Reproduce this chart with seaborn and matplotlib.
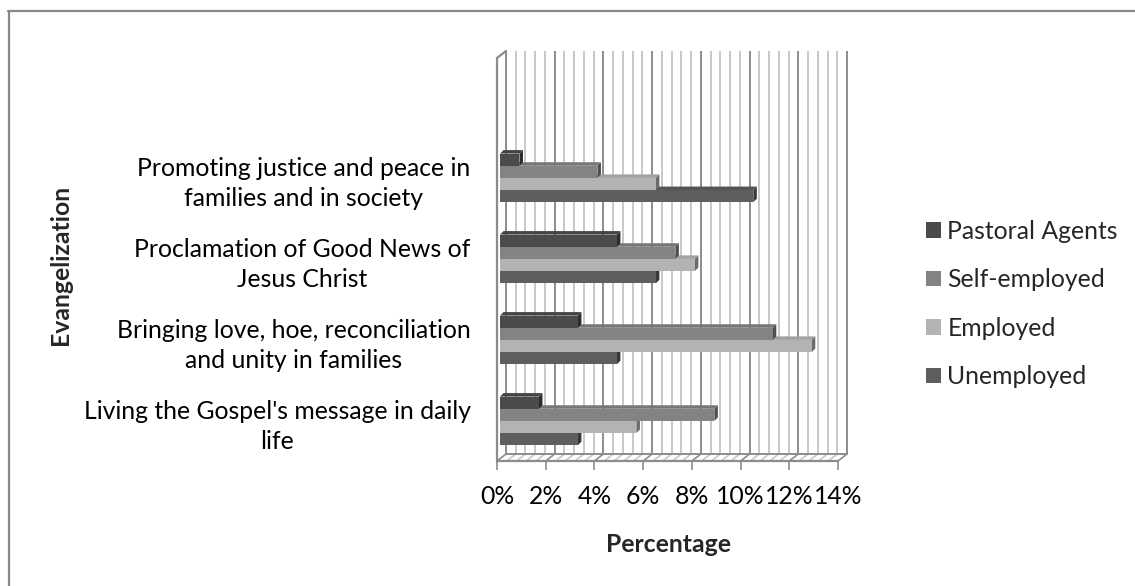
import numpy as np
import pandas as pd
import matplotlib
matplotlib.use("Agg")
import matplotlib.pyplot as plt
import seaborn as sns
from matplotlib.patches import Polygon
from matplotlib.lines import Line2D
from matplotlib.transforms import ScaledTranslation, IdentityTransform

# ---- data -------------------------------------------------------------
categories = [
    "Promoting justice and peace in\nfamilies and in society",
    "Proclamation of Good News of\nJesus Christ",
    "Bringing love, hoe, reconciliation\nand unity in families",
    "Living the Gospel's message in daily\nlife",
]
groups = ["Pastoral Agents", "Self-employed", "Employed", "Unemployed"]
pastoral_agents = [0.8, 4.8, 3.2, 1.6]
self_employed = [4.0, 7.2, 11.2, 8.8]
employed = [6.4, 8.0, 12.8, 5.6]
unemployed = [10.4, 6.4, 4.8, 3.2]
x_ticks = [0, 2, 4, 6, 8, 10, 12, 14]
x_tick_labels = ["0%", "2%", "4%", "6%", "8%", "10%", "12%", "14%"]
colors = ["#4b4b4b", "#838383", "#b3b3b3", "#5e5e5e"]

series = [pastoral_agents, self_employed, employed, unemployed]
df = pd.DataFrame(
    [(c, g, v) for g, vals in zip(groups, series) for c, v in zip(categories, vals)],
    columns=["category", "group", "value"],
)

# ---- figure -----------------------------------------------------------
W, H = 1135, 586
sns.set_theme(style="white")
plt.rcParams["font.family"] = ["Lato", "DejaVu Sans"]
fig = plt.figure(figsize=(W / 100, H / 100), dpi=100)
fig.patch.set_facecolor("white")

# front plane of the 3-D box, in pixel units
left_px, right_px, top_px, bottom_px = 497, 838, 58, 461
ax = fig.add_axes([left_px / W, 1 - bottom_px / H,
                   (right_px - left_px) / W, (bottom_px - top_px) / H])

sns.barplot(data=df, y="category", x="value", hue="group",
            order=categories, hue_order=groups, palette=colors,
            orient="h", width=0.6, saturation=1, linewidth=0,
            legend=True, ax=ax, zorder=3)

XMAX = 14
Y_BOTTOM, Y_TOP = 3.495, -1.48
ax.set_xlim(0, XMAX)
ax.set_ylim(Y_BOTTOM, Y_TOP)
ax.set_facecolor("none")
for s in ax.spines.values():
    s.set_visible(False)
ax.grid(False)

px = lambda n: n / 100.0
back = ax.transData + ScaledTranslation(px(9), px(7), fig.dpi_scale_trans)
bar_shift = ax.transData + ScaledTranslation(px(3), 0, fig.dpi_scale_trans)

# ---- back wall gridlines and floor -------------------------------------
major_c, minor_c = "#8c8c8c", "#c8c8c8"
grid_x = np.round(np.arange(0, XMAX + 0.001, 0.4), 2)
for gx in grid_x:
    is_major = abs(gx / 2 - round(gx / 2)) < 1e-6
    c = major_c if is_major else minor_c
    ax.plot([gx, gx], [Y_BOTTOM, Y_TOP], color=c, lw=1.4,
            transform=back, zorder=0, clip_on=False, solid_capstyle="butt")
    p_back = back.transform((gx, Y_BOTTOM))
    p_front = ax.transData.transform((gx, Y_BOTTOM))
    ax.plot([p_back[0], p_front[0]], [p_back[1], p_front[1]], color=c, lw=1.2,
            transform=IdentityTransform(), zorder=0, clip_on=False)

# floor edges
ax.plot([0, XMAX], [Y_BOTTOM, Y_BOTTOM], color=major_c, lw=1.4,
        transform=back, zorder=0, clip_on=False)
ax.plot([0, XMAX], [Y_BOTTOM, Y_BOTTOM], color=major_c, lw=1.6,
        zorder=1, clip_on=False)
# left edge of the box
ax.plot([0, 0], [Y_BOTTOM, Y_TOP], color=major_c, lw=1.6, zorder=1, clip_on=False)
p_b = back.transform((0, Y_TOP))
p_f = ax.transData.transform((0, Y_TOP))
ax.plot([p_f[0], p_b[0]], [p_f[1], p_b[1]], color=major_c, lw=1.6,
        transform=IdentityTransform(), zorder=1, clip_on=False)

# ---- 3-D bar faces ----------------------------------------------------
def shade(hexcol, f):
    r, g, b = matplotlib.colors.to_rgb(hexcol)
    return (r * f, g * f, b * f)

dx, dy = 3.5, 3.5
for patch in list(ax.patches):
    patch.set_transform(bar_shift)
    x0, y0 = patch.get_x(), patch.get_y()
    w, h = patch.get_width(), patch.get_height()
    hexc = matplotlib.colors.to_hex(patch.get_facecolor())
    (ax0, ay_top) = bar_shift.transform((x0, y0))
    (ax1, ay_bot) = bar_shift.transform((x0 + w, y0 + h))
    # y0 is the upper edge because the axis is inverted
    top_face = Polygon([(ax0, ay_top), (ax1, ay_top), (ax1 + dx, ay_top + dy),
                        (ax0 + dx, ay_top + dy)], closed=True,
                       facecolor=shade(hexc, 0.9), edgecolor="none",
                       transform=IdentityTransform(), zorder=2)
    cap = Polygon([(ax1, ay_top), (ax1, ay_bot), (ax1 + dx, ay_bot + dy),
                   (ax1 + dx, ay_top + dy)], closed=True,
                  facecolor=shade(hexc, 0.6), edgecolor="none",
                  transform=IdentityTransform(), zorder=2.5)
    ax.add_patch(top_face)
    ax.add_patch(cap)

# ---- ticks and labels ----------------------------------------------------
FS = 17.8
ax.set_xticks(x_ticks)
ax.set_xticklabels(x_tick_labels, fontsize=FS, color="black")
ax.tick_params(axis="x", direction="out", length=6.5, width=1.2,
               color=major_c, pad=11, bottom=True)
ax.set_yticks(range(len(categories)))
ax.set_yticklabels(categories, fontsize=FS, color="black")
ax.tick_params(axis="y", length=0, pad=19)
for t in ax.get_yticklabels():
    t.set_multialignment("center")
    t.set_linespacing(1.38)
ax.set_xlabel("")
ax.set_ylabel("")

fig.text(668 / W, 1 - 545 / H, "Percentage", fontsize=FS, fontweight="bold",
         ha="center", va="center")
fig.text(60 / W, 1 - 265 / H, "Evangelization", fontsize=FS, fontweight="bold",
         ha="center", va="center", rotation=90)

# ---- legend ----------------------------------------------------------------
handles, labels = ax.get_legend_handles_labels()
ax.legend(handles, labels, loc="center left", frameon=False,
          bbox_to_anchor=(914 / W, 1 - 304 / H), bbox_transform=fig.transFigure,
          fontsize=FS, handlelength=0.6, handleheight=0.6, handletextpad=0.25,
          labelspacing=1.03, borderpad=0)

# ---- chart border -----------------------------------------------------------
border_c = "#888888"
fig.add_artist(Line2D([8.5 / W, 8.5 / W], [0, 1 - 11 / H], color=border_c, lw=1.6,
                      transform=fig.transFigure))
fig.add_artist(Line2D([8 / W, 1], [1 - 11 / H, 1 - 11 / H], color=border_c, lw=1.6,
                      transform=fig.transFigure))

fig.savefig("out.png", dpi=100, facecolor="white")
